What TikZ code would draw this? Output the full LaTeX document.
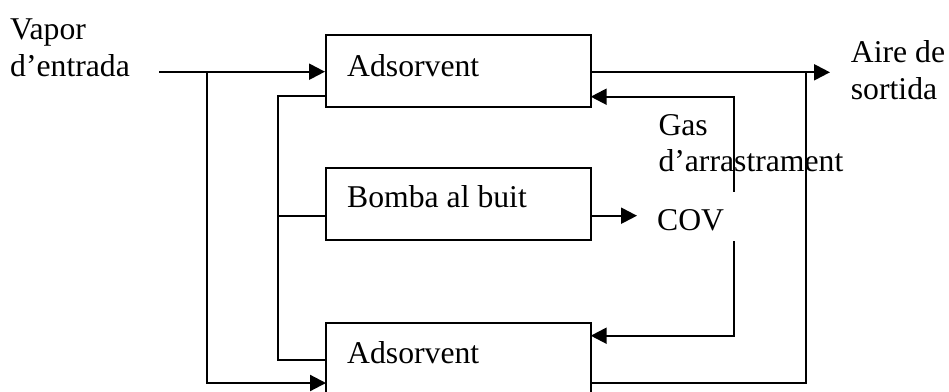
\documentclass[tikz,border=0pt]{standalone}
\usepackage{fontspec}
\setmainfont{Liberation Serif}
\usetikzlibrary{arrows.meta}
\begin{document}
\begin{tikzpicture}[x=1pt,y=-1pt,
  unit/.style={draw,line width=2pt,minimum width=264.7pt,minimum height=72.3pt,inner sep=0pt},
  lbl/.style={anchor=base west,inner sep=0pt,font=\fontsize{31.7}{36}\selectfont},
  pipe/.style={line width=2.2pt},
  flow/.style={pipe,-{Triangle[length=16pt,width=16pt]}}]
\useasboundingbox (0,0) rectangle (949,391);
\clip (0,0) rectangle (949,391);

% process units
\node[unit] (A1) at (458.35,70.85) {};
\node[unit] (B)  at (458.35,203.85) {};
\node[unit] (A2) at (458.35,359.45) {};

% texts
\node[lbl] (tA1)   at (347,76)    {Adsorvent};
\node[lbl] (tB)    at (347,207.5) {Bomba al buit};
\node[lbl] (tA2)   at (347,363.3) {Adsorvent};
\node[lbl] (vap1)  at (10,39)     {Vapor};
\node[lbl] (vap2)  at (10,76)     {d’entrada};
\node[lbl] (air1)  at (850.7,62.7) {Aire de};
\node[lbl] (air2)  at (850.7,99.3) {sortida};
\node[lbl] (gas1)  at (658.3,135)  {Gas};
\node[lbl] (gas2)  at (658.3,171.7){d’arrastrament};
\node[lbl] (cov)   at (657,230.7)  {COV};

% connection points
\coordinate (vin)   at (159,71.7);
\coordinate (j1)    at (206.7,71.7);
\coordinate (a2in)  at (326,383);
\coordinate (a1vac) at (326,96);
\coordinate (j2)    at (278,96);
\coordinate (j3)    at (278,360);
\coordinate (a2vac) at (326,360);
\coordinate (jb)    at (278,215.7);
\coordinate (bvac)  at (326,215.7);
\coordinate (bout)  at (590.7,215.7);
\coordinate (covin) at (637,215.7);
\coordinate (a1out) at (590.7,72.3);
\coordinate (aout)  at (830,72.3);
\coordinate (a2out) at (590.7,382.7);
\coordinate (jo)    at (805.7,72.3);
\coordinate (g1)    at (734,191.7);
\coordinate (g1c)   at (734,96.7);
\coordinate (a1gas) at (590.7,96.7);
\coordinate (g2)    at (734,241);
\coordinate (g2c)   at (734,335.7);
\coordinate (a2gas) at (590.7,335.7);

% inlet vapour to both adsorbers
\draw[flow] (vin) -- (vin -| A1.west);
\draw[flow] (j1) |- (a2in);

% vacuum manifold
\draw[pipe] (a1vac) -- (j2) -- (j3) -- (a2vac);
\draw[pipe] (jb) -- (bvac);
\draw[flow] (bout) -- (covin);

% clean air outlet
\draw[flow] (a1out) -- (aout);
\draw[pipe] (a2out) -| (jo);

% purge gas
\draw[flow] (g1) -- (g1c) -- (a1gas);
\draw[flow] (g2) -- (g2c) -- (a2gas);
\end{tikzpicture}
\end{document}
